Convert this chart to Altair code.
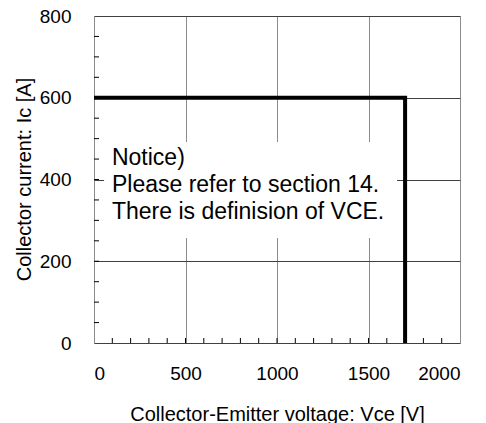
import altair as alt
import pandas as pd

# Safe operating area outline
curve_v = [0, 1700, 1700]
curve_i = [600, 600, 0]

# Axis ticks
x_major = [0, 500, 1000, 1500, 2000]
y_major = [0, 200, 400, 600, 800]
x_minor = [v for v in range(100, 2000, 100)]
y_minor = [v for v in range(50, 800, 50)]

# Notice text
note_lines = ["Notice)", "Please refer to section 14.", "There is definision of VCE."]
note_x = [98, 98, 98]
note_y = [435, 369, 303]

# White box behind notice
box_x = [55]
box_x2 = [1656]
box_y = [257]
box_y2 = [492]

FONT = "Liberation Sans"

xs = alt.Scale(domain=[0, 2000], nice=False, zero=False)
ys = alt.Scale(domain=[0, 800], nice=False, zero=False)

curve_df = pd.DataFrame({"v": curve_v, "i": curve_i, "o": list(range(len(curve_v)))})
note_df = pd.DataFrame({"t": note_lines, "x": note_x, "y": note_y})
box_df = pd.DataFrame({"x": box_x, "x2": box_x2, "y": box_y, "y2": box_y2})
xminor_df = pd.DataFrame({"v": x_minor})
yminor_df = pd.DataFrame({"v": y_minor})

base_axis_x = alt.Axis(
    values=x_major, format="d", grid=True, gridColor="#8c8c8c", gridWidth=1,
    ticks=False, domain=False, labelFont=FONT, labelFontSize=19, labelColor="black",
    labelPadding=21, title="Collector-Emitter voltage: Vce [V]", titleFont=FONT,
    titleFontSize=20, titleFontWeight="normal", titleColor="black",
    titleX=183, titleY=77, titleBaseline="alphabetic", titleAlign="center",
)
base_axis_y = alt.Axis(
    values=y_major, format="d", grid=True, gridColor="#404040", gridWidth=1,
    ticks=False, domain=False, labelFont=FONT, labelFontSize=19, labelColor="black",
    labelPadding=23, title="Collector current: Ic [A]", titleFont=FONT,
    titleFontSize=20, titleFontWeight="normal", titleColor="black",
    titleX=-64, titleY=163, titleAngle=270, titleBaseline="alphabetic", titleAlign="center",
)

curve = alt.Chart(curve_df).mark_line(color="black", strokeWidth=4, strokeJoin="miter", strokeCap="butt").encode(
    x=alt.X("v:Q", scale=xs, axis=base_axis_x),
    y=alt.Y("i:Q", scale=ys, axis=base_axis_y),
    order="o:Q",
)

box = alt.Chart(box_df).mark_rect(color="white").encode(
    x=alt.X("x:Q", scale=xs), x2="x2:Q", y=alt.Y("y:Q", scale=ys), y2="y2:Q"
)

note = alt.Chart(note_df).mark_text(
    align="left", baseline="alphabetic", font=FONT, fontSize=23, color="black"
).encode(x=alt.X("x:Q", scale=xs), y=alt.Y("y:Q", scale=ys), text="t:N")

xminor = alt.Chart(xminor_df).mark_rule(color="black", strokeWidth=1).encode(
    x=alt.X("v:Q", scale=xs), y=alt.value(327), y2=alt.value(322)
)
yminor = alt.Chart(yminor_df).mark_rule(color="black", strokeWidth=1).encode(
    y=alt.Y("v:Q", scale=ys), x=alt.value(0), x2=alt.value(5)
)

chart = alt.layer(box, xminor, yminor, note, curve).properties(
    width=366, height=327,
    autosize=alt.AutoSizeParams(type="none"),
    padding={"left": 86, "top": 8, "right": 18, "bottom": 80},
).configure_view(stroke="black", strokeWidth=1.5).configure(background="white")

chart.save("out.html", embed_options={"renderer": "svg", "actions": False})
